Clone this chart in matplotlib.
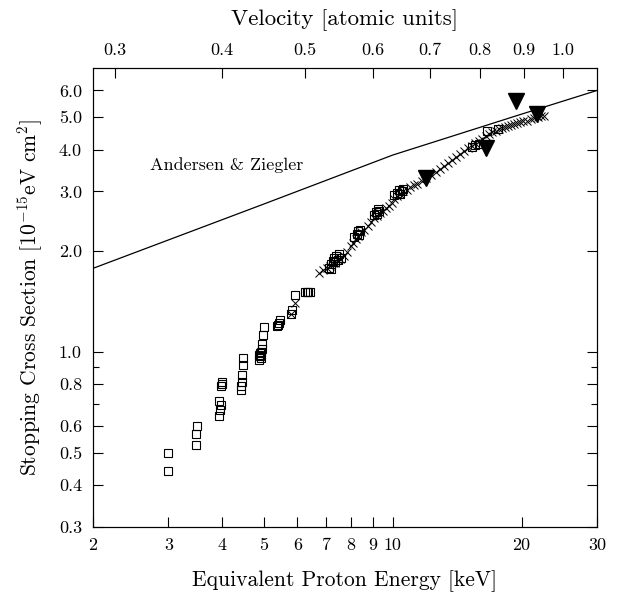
import numpy as np
import matplotlib
matplotlib.use('Agg')
import matplotlib.pyplot as plt
from matplotlib.ticker import FixedLocator, FixedFormatter, NullLocator

plt.rcParams['font.family'] = 'cmr10'
plt.rcParams['mathtext.fontset'] = 'cm'
plt.rcParams['axes.formatter.use_mathtext'] = True

# Andersen & Ziegler curve
az_E = [2, 5, 10, 20, 30]
az_S = [1.77, 2.75, 3.85, 5.1, 6.0]

# open squares
sq_E = [2.99, 2.99, 3.47, 3.48, 3.49, 3.94, 3.95, 3.97, 3.94, 3.97, 4.0, 4.01,
        4.43, 4.44, 4.45, 4.46, 4.47, 4.48, 4.89, 4.90, 4.91, 4.93, 4.95, 4.96,
        4.88, 4.92, 4.99, 5.01, 5.37, 5.42, 5.47, 5.40, 5.78, 5.84, 5.92,
        6.24, 6.30, 6.36, 6.42,
        7.1, 7.2, 7.25, 7.3, 7.35, 7.4, 7.45, 7.5, 7.2, 7.6,
        8.15, 8.25, 8.3, 8.35, 8.4,
        9.05, 9.15, 9.2, 9.3, 9.25,
        10.1, 10.25, 10.35, 10.5, 10.6, 10.4,
        15.3, 15.6, 15.9, 16.6, 17.6]
sq_S = [0.44, 0.50, 0.527, 0.567, 0.60, 0.644, 0.669, 0.693, 0.712, 0.79, 0.80, 0.814,
        0.77, 0.79, 0.814, 0.854, 0.913, 0.955, 0.946, 0.97, 0.99, 1.0, 1.02, 1.05,
        0.98, 0.96, 1.12, 1.18, 1.195, 1.22, 1.24, 1.20, 1.29, 1.33, 1.47,
        1.50, 1.50, 1.50, 1.50,
        1.78, 1.82, 1.86, 1.90, 1.85, 1.93, 1.88, 1.95, 1.76, 1.90,
        2.20, 2.24, 2.28, 2.22, 2.30,
        2.55, 2.60, 2.57, 2.63, 2.66,
        2.92, 2.97, 3.03, 3.01, 3.05, 2.94,
        4.08, 4.12, 4.15, 4.55, 4.62]

# crosses
cx_E = [5.8, 5.92, 6.75, 6.9, 7.05, 7.15, 7.25, 7.35, 7.45, 7.55, 7.7, 7.85, 8.0,
        8.1, 8.2, 8.3, 8.45, 8.6, 8.75, 8.9, 9.05, 9.2, 9.35, 9.5, 9.65, 9.8,
        9.95, 10.1, 10.25, 10.4, 10.6, 10.8, 11.0, 11.2, 11.4, 11.7, 12.0, 12.3,
        12.6, 12.9, 13.2, 13.5, 13.8, 14.1, 14.4, 14.7, 15.0, 15.3, 15.6, 15.9,
        16.2, 16.5, 16.8, 17.1, 17.4, 17.7, 18.0, 18.3, 18.6, 18.9, 19.2, 19.5,
        19.8, 20.2, 20.6, 21.0, 21.4, 21.8, 22.2, 22.6]
cx_S = [1.29, 1.40, 1.71, 1.75, 1.78, 1.80, 1.83, 1.84, 1.87, 1.89, 1.93, 1.98, 2.06,
        2.11, 2.16, 2.21, 2.27, 2.31, 2.37, 2.44, 2.50, 2.54, 2.58, 2.62, 2.67, 2.71,
        2.77, 2.84, 2.90, 2.95, 3.00, 3.04, 3.09, 3.13, 3.16, 3.22, 3.30, 3.37,
        3.44, 3.50, 3.57, 3.65, 3.73, 3.80, 3.88, 3.96, 4.04, 4.11, 4.17, 4.24,
        4.31, 4.38, 4.45, 4.50, 4.55, 4.60, 4.64, 4.68, 4.71, 4.74, 4.77, 4.79,
        4.82, 4.85, 4.88, 4.92, 4.96, 4.99, 5.02, 5.05]

# filled triangles
tri_E = [12.0, 16.5, 19.4, 21.7]
tri_S = [3.30, 4.03, 5.57, 5.11]

yticks = [0.3, 0.4, 0.5, 0.6, 0.8, 1.0, 2.0, 3.0, 4.0, 5.0, 6.0]
ytick_labels = ['0.3', '0.4', '0.5', '0.6', '0.8', '1.0', '2.0', '3.0', '4.0', '5.0', '6.0']
xticks = [2, 3, 4, 5, 6, 7, 8, 9, 10, 20, 30]
xtick_labels = ['2', '3', '4', '5', '6', '7', '8', '9', '10', '20', '30']
vticks = np.array([0.3, 0.4, 0.5, 0.6, 0.7, 0.8, 0.9, 1.0])
vtick_labels = ['0.3', '0.4', '0.5', '0.6', '0.7', '0.8', '0.9', '1.0']

fig = plt.figure(figsize=(6.26, 5.94), dpi=100)
ax = fig.add_axes([93/626, 67/594, 504/626, 459/594])
ax.set_xscale('log')
ax.set_yscale('log')

ax.plot(az_E, az_S, color='black', lw=0.9)
ax.plot(cx_E, cx_S, 'x', color='black', ms=6, mew=0.7)
ax.plot(sq_E, sq_S, 's', mfc='none', mec='black', ms=6, mew=0.8)
ax.plot(tri_E, tri_S, 'v', color='black', ms=11)

ax.text(2.72, 3.6, 'Andersen & Ziegler', fontsize=13, va='center', ha='left')

ax.set_xlim(2, 30)
ax.set_ylim(0.3, 7.0)
ax.xaxis.set_major_locator(FixedLocator(xticks))
ax.xaxis.set_major_formatter(FixedFormatter(xtick_labels))
ax.xaxis.set_minor_locator(NullLocator())
ax.yaxis.set_major_locator(FixedLocator(yticks))
ax.yaxis.set_major_formatter(FixedFormatter(ytick_labels))
ax.yaxis.set_minor_locator(FixedLocator([0.7, 0.9]))
ax.tick_params(axis='both', which='major', direction='in', length=7, width=0.8,
               labelsize=13, pad=8)
ax.tick_params(axis='y', which='both', right=True, direction='in')
ax.tick_params(axis='y', which='minor', length=4, width=0.8)
ax.tick_params(axis='x', top=False)

ax.set_xlabel('Equivalent Proton Energy [keV]', fontsize=15.5, labelpad=12)
ax.set_ylabel(r'Stopping Cross Section [10$^{-15}$eV cm$^{2}$]', fontsize=15.5, labelpad=10)

ax2 = ax.twiny()
ax2.set_xscale('log')
ax2.set_xlim(ax.get_xlim())
ax2.xaxis.set_major_locator(FixedLocator(25 * vticks**2))
ax2.xaxis.set_major_formatter(FixedFormatter(vtick_labels))
ax2.xaxis.set_minor_locator(NullLocator())
ax2.tick_params(axis='x', direction='in', length=7, width=0.8, labelsize=13, pad=7)
ax2.set_xlabel('Velocity [atomic units]', fontsize=16.5, labelpad=13)

for a in (ax, ax2):
    for s in a.spines.values():
        s.set_linewidth(0.8)

fig.savefig('out.png', dpi=100)
